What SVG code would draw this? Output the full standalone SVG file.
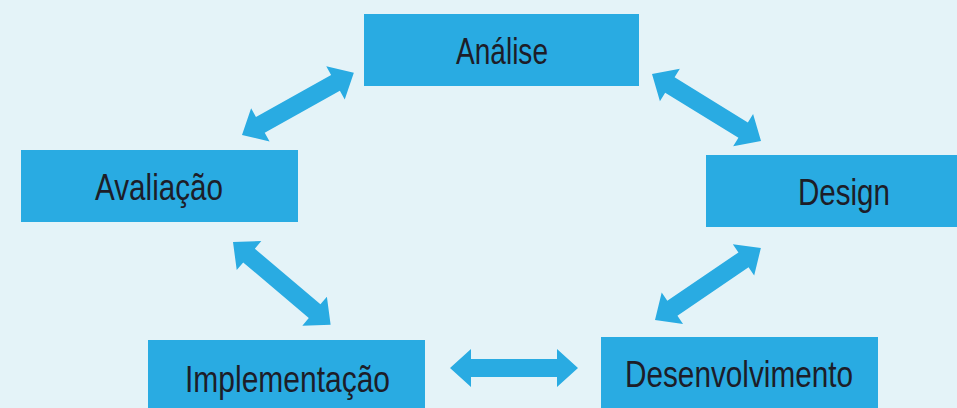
<svg xmlns="http://www.w3.org/2000/svg" xmlns:xlink="http://www.w3.org/1999/xlink" width="957" height="408" viewBox="0 0 957 408">
<style>
.box{fill:#29abe2}
.lbl{font-family:"Liberation Sans",Arial,sans-serif;font-size:37px;fill:#1d1d28}
.arr{fill:#29abe2}
</style>
<defs>
<polygon id="arr" points="0,0 21,-19 21,-9 107,-9 107,-19 128,0 107,19 107,9 21,9 21,19"/>
</defs>
<rect width="957" height="408" fill="#e4f3f8"/>
<g id="analise"><rect class="box" x="364" y="14" width="275" height="72"/><text class="lbl" x="456" y="63.5" textLength="92" lengthAdjust="spacingAndGlyphs">Análise</text></g>
<g id="avaliacao"><rect class="box" x="21" y="150" width="277" height="72"/><text class="lbl" x="95" y="199.5" textLength="128" lengthAdjust="spacingAndGlyphs">Avaliação</text></g>
<g id="design"><rect class="box" x="706" y="155" width="251" height="72"/><text class="lbl" x="798" y="205" textLength="92" lengthAdjust="spacingAndGlyphs">Design</text></g>
<g id="implementacao"><rect class="box" x="148" y="340" width="277" height="68"/><text class="lbl" x="185" y="391.5" textLength="205" lengthAdjust="spacingAndGlyphs">Implementação</text></g>
<g id="desenvolvimento"><rect class="box" x="601" y="337" width="277" height="71"/><text class="lbl" x="625" y="387" textLength="228" lengthAdjust="spacingAndGlyphs">Desenvolvimento</text></g>
<g id="connectors" class="arr">
<use xlink:href="#arr" transform="translate(242,135) rotate(-29.1)"/>
<use xlink:href="#arr" transform="translate(652,74) rotate(31.6)"/>
<use xlink:href="#arr" transform="translate(233,242) rotate(40.3)"/>
<use xlink:href="#arr" transform="translate(655,320) rotate(-34.2)"/>
<use xlink:href="#arr" transform="translate(450,368)"/>
</g>
</svg>
